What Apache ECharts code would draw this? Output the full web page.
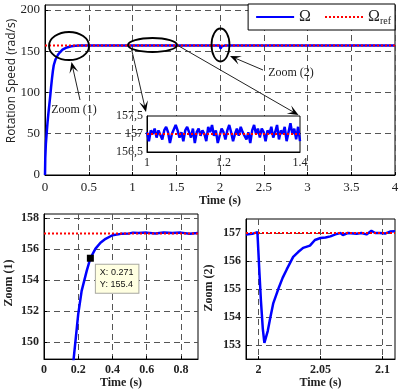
<!DOCTYPE html>
<html>
<head>
<meta charset="utf-8">
<script src="https://cdn.jsdelivr.net/npm/echarts@6/dist/echarts.min.js"></script>
<style>
  html, body { margin: 0; padding: 0; background: #fff; }
  #main { width: 403px; height: 390px; }
</style>
</head>
<body>
<div id="main"></div>
<script>
/* reference speed */
const omegaRef = 157

/* main plot: start-up transient, then steady state with a load step at t = 2 s */
const mainT = [0, 0.003, 0.01, 0.02, 0.03, 0.04, 0.05, 0.06, 0.07, 0.08, 0.09, 0.1, 0.12, 0.15, 0.174, 0.2, 0.25, 0.3, 0.35, 0.4, 0.5, 1.0, 1.5, 2.0, 2.005, 2.01, 2.02, 2.05, 2.1, 2.5, 3.0, 3.5, 4.0]
const mainOmega = [0, 20, 38, 52, 65, 76, 86, 96, 107, 117, 126, 133, 140, 146, 149, 151.8, 154.6, 156, 156.6, 156.9, 157, 157, 157, 157, 153.1, 154.1, 155.9, 156.8, 157, 157, 157, 157, 157]
const mainXTicks = [0, 0.5, 1, 1.5, 2, 2.5, 3, 3.5, 4]
const mainYTicks = [0, 50, 100, 150, 200]

/* inset 1 .. 1.4 s, sampled every 5 ms */
const insetStart = 1
const insetStep = 0.005
const insetOmega = [
  157.05, 156.8, 157.1, 157.0, 157.15, 156.9, 157.1, 157.05, 156.85, 157.1,
  157.2, 157.05, 156.75, 157.0, 156.95, 157.25, 157.1, 156.9, 157.05, 156.8,
  157.1, 157.2, 157.05, 156.9, 157.15, 156.75, 157.05, 157.15, 156.95, 157.1,
  157.0, 156.8, 157.2, 157.05, 157.25, 156.95, 157.1, 156.75, 156.95, 157.15,
  157.05, 156.85, 157.1, 157.25, 157.05, 156.8, 157.0, 157.15, 156.95, 157.2,
  157.05, 157.1, 156.85, 157.05, 156.75, 157.1, 157.25, 157.0, 157.15, 156.9,
  157.15, 157.05, 156.8, 157.1, 157.0, 157.2, 156.9, 157.05, 157.25, 156.85,
  157.1, 157.0, 157.2, 156.8, 157.05, 157.3, 157.0, 157.15, 156.85, 157.2, 156.8
]
const insetXTicks = [1, 1.2, 1.4]
const insetYTicks = [156.5, 157, 157.5]

/* Zoom (1) */
const zoom1T = [0.15, 0.174, 0.2, 0.22, 0.25, 0.271, 0.3, 0.33, 0.36, 0.4, 0.45, 0.5, 0.52, 0.55, 0.6, 0.65, 0.7, 0.75, 0.8, 0.85, 0.9]
const zoom1Omega = [146, 149, 151.8, 153.3, 154.6, 155.4, 156.0, 156.4, 156.65, 156.88, 156.97, 157.0, 157.05, 157.02, 157.05, 157.0, 157.06, 157.02, 157.05, 156.98, 157.03]
const zoom1XTicks = [0, 0.2, 0.4, 0.6, 0.8]
const zoom1YTicks = [150, 152, 154, 156, 158]
const tipT = 0.271
const tipOmega = 155.4

/* Zoom (2) */
const zoom2T = [1.99, 1.995, 1.9992, 2.0, 2.0008, 2.002, 2.0035, 2.0048, 2.006, 2.0075, 2.0094, 2.012, 2.016, 2.0195, 2.0228, 2.028, 2.032, 2.036, 2.0415, 2.0455, 2.05, 2.054, 2.058, 2.062, 2.066, 2.068, 2.072, 2.079, 2.083, 2.087, 2.091, 2.094, 2.098, 2.102, 2.106, 2.11]
const zoom2Omega = [156.95, 156.97, 157.03, 157.0, 155.6, 154.6, 153.6, 153.08, 153.15, 153.5, 153.94, 154.5, 155.0, 155.4, 155.7, 156.15, 156.32, 156.47, 156.55, 156.75, 156.82, 156.84, 156.88, 156.95, 157.0, 156.93, 157.0, 156.97, 157.0, 156.95, 157.08, 157.0, 157.0, 156.98, 157.05, 157.06]
const zoom2XTicks = [2, 2.05, 2.1]
const zoom2YTicks = [153, 154, 155, 156, 157]

const zip = (xs, ys) => xs.map((x, i) => [x, ys[i]])
const insetData = insetOmega.map((v, i) => [insetStart + i * insetStep, v])

const serif = 'Liberation Serif'
const blue = '#0000ff'
const red = '#ff0000'

/* dashed grid lines */
const gridLine = { show: true, lineStyle: { color: '#555', width: 1, type: [6, 4] } }

function valueAxis(gridIndex, min, max, ticks, opt) {
  return Object.assign({
    type: 'value',
    gridIndex: gridIndex,
    min: min,
    max: max,
    axisLine: { show: true, onZero: false, lineStyle: { color: '#000', width: 1 } },
    axisTick: { show: true, inside: true, length: 3, customValues: ticks, lineStyle: { color: '#000' } },
    axisLabel: { customValues: ticks, fontFamily: serif, fontSize: 13, color: '#222', margin: 6 },
    splitLine: gridLine
  }, opt)
}

/* arrow = line + barbed head */
function arrow(x1, y1, x2, y2) {
  const a = Math.atan2(y2 - y1, x2 - x1)
  const p = (d, w) => [x2 - d * Math.cos(a) - w * Math.sin(a), y2 - d * Math.sin(a) + w * Math.cos(a)]
  return [
    { type: 'line', z: 100, shape: { x1: x1, y1: y1, x2: p(6, 0)[0], y2: p(6, 0)[1] }, style: { stroke: '#222', lineWidth: 1 } },
    { type: 'polygon', z: 100, shape: { points: [[x2, y2], p(11, 4.5), p(6, 0), p(11, -4.5)] }, style: { fill: '#000' } }
  ]
}

function ellipse(cx, cy, rx, ry) {
  return { type: 'ellipse', z: 100, shape: { cx: cx, cy: cy, rx: rx, ry: ry }, style: { fill: 'none', stroke: '#000', lineWidth: 1.8 } }
}

function yTitle(text, x, y, font) {
  return { type: 'text', z: 100, x: x, y: y, rotation: Math.PI / 2, style: { text: text, font: font, fill: '#222', align: 'center', verticalAlign: 'middle' } }
}

const chart = echarts.init(document.getElementById('main'), null, { renderer: 'canvas' })

const boldLabel = { fontFamily: serif, fontSize: 12, fontWeight: 'bold', color: '#222', margin: 5 }

chart.setOption({
  animation: false,
  grid: [
    { left: 45, top: 5, right: 8, height: 170, show: true, borderColor: '#000', borderWidth: 1 },
    { left: 147, top: 116, width: 153, height: 36, show: true, backgroundColor: '#fff', borderColor: '#000', borderWidth: 1, z: 3 },
    { left: 44, top: 214, width: 154, height: 147, show: true, borderColor: '#000', borderWidth: 1 },
    { left: 246, top: 219, width: 149, height: 142, show: true, borderColor: '#000', borderWidth: 1 }
  ],
  xAxis: [
    valueAxis(0, 0, 4, mainXTicks, {
      name: 'Time (s)', nameLocation: 'middle', nameGap: 20,
      nameTextStyle: { fontFamily: serif, fontSize: 12, fontWeight: 'bold', color: '#222' }
    }),
    valueAxis(1, 1, 1.4, insetXTicks, {
      z: 4,
      axisTick: { show: false },
      axisLabel: { customValues: insetXTicks, fontFamily: serif, fontSize: 12, color: '#222', margin: 5 },
      splitLine: { show: false }
    }),
    valueAxis(2, 0, 0.9, zoom1XTicks, {
      axisLabel: Object.assign({ customValues: zoom1XTicks }, boldLabel),
      name: 'Time (s)', nameLocation: 'middle', nameGap: 16,
      nameTextStyle: { fontFamily: serif, fontSize: 12, fontWeight: 'bold', color: '#222' }
    }),
    valueAxis(3, 1.99, 2.11, zoom2XTicks, {
      axisLabel: Object.assign({ customValues: zoom2XTicks }, boldLabel),
      name: 'Time (s)', nameLocation: 'middle', nameGap: 16,
      nameTextStyle: { fontFamily: serif, fontSize: 12, fontWeight: 'bold', color: '#222' }
    })
  ],
  yAxis: [
    valueAxis(0, 0, 206, mainYTicks, {
      axisLabel: { customValues: mainYTicks, fontFamily: serif, fontSize: 13, color: '#222', margin: 5 }
    }),
    valueAxis(1, 156.5, 157.5, insetYTicks, {
      z: 4,
      axisTick: { show: false },
      axisLabel: {
        customValues: insetYTicks, fontFamily: serif, fontSize: 12, color: '#222', margin: 4,
        formatter: v => String(v).replace('.', ',')
      },
      splitLine: { show: false }
    }),
    valueAxis(2, 148.9, 158.25, zoom1YTicks, {
      axisLabel: Object.assign({ customValues: zoom1YTicks }, boldLabel)
    }),
    valueAxis(3, 152.5, 157.5, zoom2YTicks, {
      axisLabel: Object.assign({ customValues: zoom2YTicks }, boldLabel)
    })
  ],
  legend: {
    data: ['Ω', 'Ω_ref'],
    right: 8,
    top: 4,
    padding: [4, 4, 4, 7],
    itemWidth: 38,
    itemHeight: 14,
    itemGap: 13,
    itemStyle: { opacity: 0 },
    backgroundColor: '#fff',
    borderColor: '#000',
    borderWidth: 1,
    borderRadius: 0,
    formatter: name => name === 'Ω_ref' ? '{a|Ω}{s|ref}' : '{a|Ω}',
    textStyle: {
      rich: {
        a: { fontFamily: serif, fontSize: 16, color: '#222', lineHeight: 18 },
        s: { fontFamily: serif, fontSize: 10, color: '#222', lineHeight: 18, verticalAlign: 'bottom', padding: [8, 0, 0, 0] }
      }
    }
  },
  series: [
    {
      name: 'Ω', type: 'line', xAxisIndex: 0, yAxisIndex: 0, symbol: 'none', z: 2,
      lineStyle: { color: blue, width: 2.5 }, itemStyle: { color: blue },
      data: zip(mainT, mainOmega)
    },
    {
      name: 'Ω_ref', type: 'line', xAxisIndex: 0, yAxisIndex: 0, symbol: 'none', z: 3,
      lineStyle: { color: red, width: 2, type: [2, 2] }, itemStyle: { color: red },
      data: [[0, omegaRef], [4, omegaRef]]
    },
    {
      name: 'inset', type: 'line', xAxisIndex: 1, yAxisIndex: 1, symbol: 'none', z: 5,
      lineStyle: { color: blue, width: 2.5 },
      data: insetData
    },
    {
      name: 'inset ref', type: 'line', xAxisIndex: 1, yAxisIndex: 1, symbol: 'none', z: 6,
      lineStyle: { color: red, width: 2, type: [2, 2] },
      data: [[1, omegaRef], [1.4, omegaRef]]
    },
    {
      name: 'zoom1', type: 'line', xAxisIndex: 2, yAxisIndex: 2, symbol: 'none', z: 2,
      lineStyle: { color: blue, width: 2.5 },
      data: zip(zoom1T, zoom1Omega),
      markPoint: {
        symbol: 'rect',
        symbolSize: 7,
        itemStyle: { color: '#000' },
        label: {
          show: true,
          position: [9, 10],
          align: 'left',
          verticalAlign: 'top',
          fontFamily: 'Liberation Sans',
          fontSize: 9,
          lineHeight: 12,
          color: '#111',
          backgroundColor: '#ffffe1',
          borderColor: '#a8a8a0',
          borderWidth: 1,
          padding: [2, 5, 2, 4],
          formatter: p => 'X: ' + p.data.coord[0] + '\nY: ' + p.data.coord[1]
        },
        data: [{ coord: [tipT, tipOmega] }]
      }
    },
    {
      name: 'zoom1 ref', type: 'line', xAxisIndex: 2, yAxisIndex: 2, symbol: 'none', z: 3,
      lineStyle: { color: red, width: 2, type: [2, 2] },
      data: [[0, omegaRef], [0.9, omegaRef]]
    },
    {
      name: 'zoom2', type: 'line', xAxisIndex: 3, yAxisIndex: 3, symbol: 'none', z: 2,
      lineStyle: { color: blue, width: 2.5 },
      data: zip(zoom2T, zoom2Omega)
    },
    {
      name: 'zoom2 ref', type: 'line', xAxisIndex: 3, yAxisIndex: 3, symbol: 'none', z: 3,
      lineStyle: { color: red, width: 2, type: [2, 2] },
      data: [[1.99, omegaRef], [2.11, omegaRef]]
    }
  ],
  graphic: [
    /* zoom markers on the main plot */
    ellipse(69, 46, 20, 14),
    ellipse(152.5, 45, 24.5, 7),
    ellipse(220.5, 45, 9, 16.5),
    ...arrow(80, 100, 71.5, 62),
    ...arrow(131.5, 49, 146, 112),
    ...arrow(177, 45, 298.5, 115),
    ...arrow(263, 70, 230, 56),
    { type: 'text', z: 100, x: 74, y: 110, style: { text: 'Zoom (1)', font: '12px "Liberation Serif"', fill: '#222', align: 'center', verticalAlign: 'middle' } },
    { type: 'text', z: 100, x: 291, y: 73, style: { text: 'Zoom (2)', font: '12px "Liberation Serif"', fill: '#222', align: 'center', verticalAlign: 'middle' } },
    /* y axis titles */
    yTitle('Rotation Speed (rad/s)', 12, 81, '12px "Open Sans"'),
    yTitle('Zoom (1)', 9, 283, 'bold 12px "Liberation Serif"'),
    yTitle('Zoom (2)', 209, 288, 'bold 12px "Liberation Serif"')
  ]
})
</script>
</body>
</html>
